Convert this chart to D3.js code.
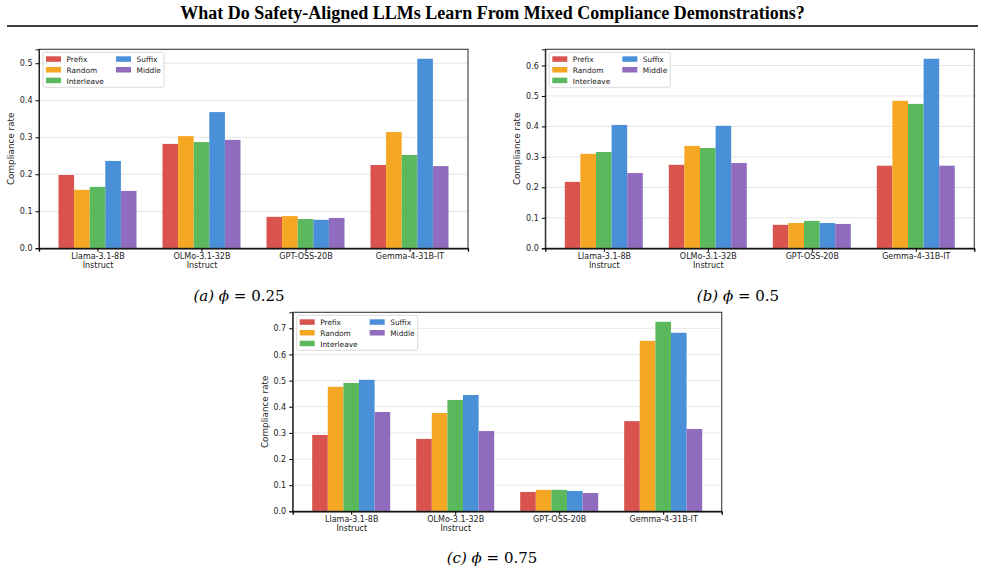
<!DOCTYPE html>
<html>
<head>
<meta charset="utf-8">
<script src="https://cdn.jsdelivr.net/npm/d3@7/dist/d3.min.js"></script>
<style>
  body { margin: 0; background: #fff; }
  svg text { font-family: "DejaVu Sans", sans-serif; fill: #222; }
</style>
</head>
<body>
<div id="fig"></div>
<script>
const models = ['Llama-3.1-8B\nInstruct', 'OLMo-3.1-32B\nInstruct', 'GPT-OSS-20B', 'Gemma-4-31B-IT'];
const positions = ['Prefix', 'Random', 'Interleave', 'Suffix', 'Middle'];
const colors = ['#d9534f', '#f5a623', '#5cb85c', '#4a90d9', '#906cbf'];

// compliance rate per model, one row per position (Prefix..Middle)
const phi025 = [
    [0.198, 0.282, 0.085, 0.225],
    [0.158, 0.303, 0.087, 0.314],
    [0.166, 0.287, 0.079, 0.252],
    [0.236, 0.368, 0.077, 0.512],
    [0.155, 0.293, 0.082, 0.222]
];
const phi05 = [
    [0.218, 0.274, 0.077, 0.271],
    [0.310, 0.336, 0.083, 0.484],
    [0.316, 0.329, 0.090, 0.474],
    [0.405, 0.402, 0.083, 0.622],
    [0.247, 0.280, 0.080, 0.271]
];
const phi075 = [
    [0.292, 0.277, 0.074, 0.345],
    [0.476, 0.376, 0.082, 0.652],
    [0.491, 0.426, 0.082, 0.725],
    [0.503, 0.445, 0.078, 0.683],
    [0.380, 0.307, 0.070, 0.315]
];
const ticks025 = [0, 0.1, 0.2, 0.3, 0.4, 0.5];
const ticks05 = [0, 0.1, 0.2, 0.3, 0.4, 0.5, 0.6];
const ticks075 = [0, 0.1, 0.2, 0.3, 0.4, 0.5, 0.6, 0.7];

const W = 985, H = 585, pw = 429, ph = 199;

const svg = d3.select('#fig').append('svg')
    .attr('width', W)
    .attr('height', H);

svg.append('text')
    .attr('x', W / 2)
    .attr('y', 19)
    .attr('text-anchor', 'middle')
    .style('font-family', '"Liberation Serif", serif')
    .style('font-weight', 'bold')
    .style('font-size', '18px')
    .style('fill', '#000')
    .text('What Do Safety-Aligned LLMs Learn From Mixed Compliance Demonstrations?');

svg.append('line')
    .attr('x1', 7).attr('x2', 978)
    .attr('y1', 26).attr('y2', 26)
    .attr('stroke', '#000')
    .attr('stroke-width', 1.6);

function drawPanel(left, top, data, yTicks, label, phiText, capX, capY) {
    const g = svg.append('g').attr('transform', `translate(${left}, ${top})`);
    const ymax = d3.max(data.flat()) * 1.05;

    const x = d3.scaleLinear().domain([-0.5625, 3.5625]).range([0, pw]);
    const y = d3.scaleLinear().domain([0, ymax]).range([ph, 0]);
    const bw = 0.15;

    // grid
    g.append('g')
        .selectAll('line')
        .data(yTicks)
        .enter()
        .append('line')
        .attr('x1', 0).attr('x2', pw)
        .attr('y1', d => y(d)).attr('y2', d => y(d))
        .attr('stroke', '#e6e6e6')
        .attr('stroke-width', 1);

    // bars
    data.forEach((row, s) => {
        g.append('g')
            .selectAll('rect')
            .data(row)
            .enter()
            .append('rect')
            .attr('x', (d, i) => x(i + (s - 2) * bw - bw / 2))
            .attr('y', d => y(d))
            .attr('width', x(bw) - x(0))
            .attr('height', d => ph - y(d))
            .attr('fill', colors[s]);
    });

    // frame
    g.append('rect')
        .attr('width', pw).attr('height', ph)
        .attr('fill', 'none')
        .attr('stroke', '#3a3a3a')
        .attr('stroke-width', 1.1);

    const yAxis = g.append('g')
        .call(d3.axisLeft(y).tickValues(yTicks).tickFormat(d3.format('.1f')).tickSize(3.5).tickPadding(3));
    yAxis.select('.domain').attr('stroke', '#222');
    yAxis.selectAll('text').style('font-size', '8px');

    const xAxis = g.append('g')
        .attr('transform', `translate(0, ${ph})`)
        .call(d3.axisBottom(x).tickValues([0, 1, 2, 3]).tickFormat('').tickSize(3.5));
    xAxis.select('.domain').attr('stroke', '#000').attr('stroke-width', 1.3);

    xAxis.selectAll('.tick')
        .append('text')
        .attr('text-anchor', 'middle')
        .style('font-size', '8px')
        .selectAll('tspan')
        .data((d, i) => models[d].split('\n'))
        .enter()
        .append('tspan')
        .attr('x', 0)
        .attr('y', (d, i) => 11 + i * 8.7)
        .text(d => d);

    g.append('text')
        .attr('transform', `translate(${-25}, ${ph / 2}) rotate(-90)`)
        .attr('text-anchor', 'middle')
        .style('font-size', '8.8px')
        .text('Compliance rate');

    // legend
    const lg = g.append('g').attr('transform', 'translate(4, 3)');
    lg.append('rect')
        .attr('width', 121).attr('height', 35)
        .attr('rx', 2)
        .attr('fill', '#fff')
        .attr('fill-opacity', 0.85)
        .attr('stroke', '#d0d0d0')
        .attr('stroke-width', 0.8);
    const items = lg.selectAll('.item')
        .data(positions)
        .enter()
        .append('g')
        .attr('class', 'item')
        .attr('transform', (d, i) => `translate(${i < 3 ? 3 : 73}, ${4 + (i % 3) * 10.7})`);
    items.append('rect')
        .attr('width', 15).attr('height', 5.5)
        .attr('fill', (d, i) => colors[i]);
    items.append('text')
        .attr('x', 20.5)
        .attr('y', 5.8)
        .style('font-size', '7.4px')
        .text(d => d);

    // caption
    const cap = svg.append('text')
        .attr('x', capX)
        .attr('y', capY)
        .attr('text-anchor', 'middle')
        .style('font-family', '"DejaVu Serif", "Liberation Serif", serif')
        .style('font-size', '15px')
        .style('fill', '#000');
    cap.append('tspan').style('font-style', 'italic').text(`(${label}) `);
    cap.append('tspan').style('font-style', 'italic').text('ϕ');
    cap.append('tspan').text(` = ${phiText}`);
}

drawPanel(39, 49.3, phi025, ticks025, 'a', '0.25', 239, 301);
drawPanel(545.3, 49.3, phi05, ticks05, 'b', '0.5', 738, 301);
drawPanel(292.7, 312.3, phi075, ticks075, 'c', '0.75', 492, 563);
</script>
</body>
</html>
